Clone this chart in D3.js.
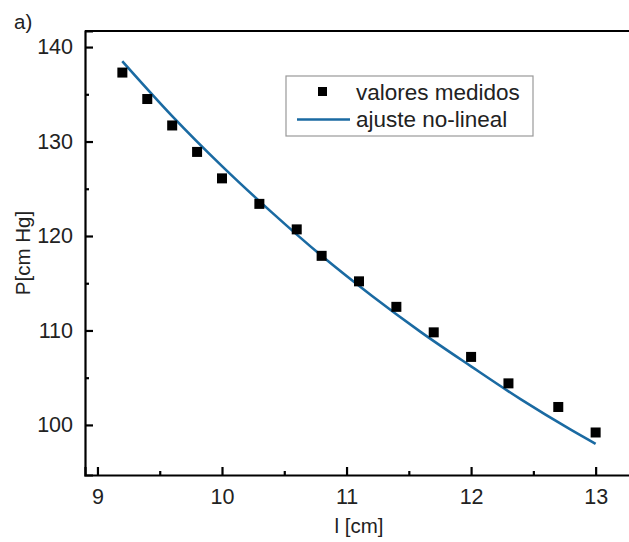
<!DOCTYPE html>
<html>
<head>
<meta charset="utf-8">
<script src="https://cdn.jsdelivr.net/npm/d3@7"></script>
<style>
  body { margin: 0; background: #fff; }
  svg { display: block; font-family: "Liberation Sans", Arial, sans-serif; }
</style>
</head>
<body>
<script>
// measured points
var lengths = [9.2, 9.4, 9.6, 9.8, 10.0, 10.3, 10.6, 10.8, 11.1, 11.4, 11.7, 12.0, 12.3, 12.7, 13.0];
var pressures = [137.3, 134.5, 131.7, 128.9, 126.1, 123.4, 120.7, 117.9, 115.2, 112.5, 109.8, 107.2, 104.4, 101.9, 99.2];

// fitted curve
var fitL = [9.2, 9.6, 10.0, 10.4, 10.8, 11.2, 11.6, 12.0, 12.4, 12.8, 13.0];
var fitP = [138.5, 132.7, 127.4, 122.5, 117.9, 113.7, 109.8, 106.2, 102.7, 99.5, 98.0];

var xTicks = [9, 10, 11, 12, 13];
var yTicks = [100, 110, 120, 130, 140];
var legendLabels = ["valores medidos", "ajuste no-lineal"];

var width = 629, height = 542;
var blue = "#1a6aa2";

var svg = d3.select("body").append("svg")
    .attr("width", width)
    .attr("height", height);

var x = d3.scaleLinear().domain([8.9, 13.3]).range([85, 633]);
var y = d3.scaleLinear().domain([94.7, 141.7]).range([475, 31]);

// frame (top line, right side is off the page)
svg.append("line")
    .attr("x1", x.range()[0]).attr("x2", x.range()[1])
    .attr("y1", y.range()[1]).attr("y2", y.range()[1])
    .attr("stroke", "#000").attr("stroke-width", 2);

// minor ticks
var xMinor = [9.5, 10.5, 11.5, 12.5];
var yMinor = [105, 115, 125, 135];

svg.append("g")
    .attr("transform", "translate(0," + y.range()[0] + ")")
    .call(d3.axisBottom(x).tickValues(xTicks).tickSize(-8).tickPadding(14).tickFormat(d3.format("d")));

svg.append("g")
    .attr("transform", "translate(0," + y.range()[0] + ")")
    .call(d3.axisBottom(x).tickValues(xMinor).tickSize(-4).tickFormat(""))
    .call(function (g) { g.select(".domain").remove(); });

svg.append("g")
    .attr("transform", "translate(" + x.range()[0] + ",0)")
    .call(d3.axisLeft(y).tickValues(yTicks).tickSize(-8).tickPadding(12).tickFormat(d3.format("d")));

svg.append("g")
    .attr("transform", "translate(" + x.range()[0] + ",0)")
    .call(d3.axisLeft(y).tickValues(yMinor).tickSize(-4).tickFormat(""))
    .call(function (g) { g.select(".domain").remove(); });

svg.selectAll(".domain").attr("stroke", "#000").attr("stroke-width", 2.2);
svg.selectAll(".tick line").attr("stroke", "#000").attr("stroke-width", 2.2);
svg.selectAll(".tick text").attr("font-size", 21.5).attr("fill", "#222")
    .attr("font-family", "Liberation Sans, Arial, sans-serif");

// fitted line
var line = d3.line()
    .x(function (d) { return x(d[0]); })
    .y(function (d) { return y(d[1]); })
    .curve(d3.curveMonotoneX);

svg.append("path")
    .datum(fitL.map(function (l, i) { return [l, fitP[i]]; }))
    .attr("d", line)
    .attr("fill", "none")
    .attr("stroke", blue)
    .attr("stroke-width", 2.6);

// measured squares
var sq = 10;
svg.append("g").selectAll("rect")
    .data(lengths)
    .enter().append("rect")
    .attr("x", function (d) { return x(d) - sq / 2; })
    .attr("y", function (d, i) { return y(pressures[i]) - sq / 2; })
    .attr("width", sq)
    .attr("height", sq)
    .attr("fill", "#000");

// legend
var legend = svg.append("g").attr("transform", "translate(286,76)");
legend.append("rect")
    .attr("width", 247).attr("height", 60)
    .attr("fill", "#fff").attr("stroke", "#999").attr("stroke-width", 1.2);
legend.append("rect")
    .attr("x", 32).attr("y", 11).attr("width", 9).attr("height", 9)
    .attr("fill", "#000");
legend.append("line")
    .attr("x1", 11).attr("x2", 64).attr("y1", 43.5).attr("y2", 43.5)
    .attr("stroke", blue).attr("stroke-width", 2.6);
legend.selectAll("text")
    .data(legendLabels)
    .enter().append("text")
    .attr("x", 70)
    .attr("y", function (d, i) { return 24 + i * 27; })
    .attr("font-size", 22.5)
    .attr("fill", "#222")
    .text(function (d) { return d; });

// axis titles
svg.append("text")
    .attr("transform", "translate(30,253) rotate(-90)")
    .attr("text-anchor", "middle")
    .attr("font-size", 20.5)
    .attr("fill", "#222")
    .text("P[cm Hg]");

svg.append("text")
    .attr("x", 359).attr("y", 533)
    .attr("text-anchor", "middle")
    .attr("font-size", 20.5)
    .attr("fill", "#222")
    .text("l [cm]");

svg.append("text")
    .attr("x", 14).attr("y", 29)
    .attr("font-size", 20.5)
    .attr("fill", "#222")
    .text("a)");
</script>
</body>
</html>
